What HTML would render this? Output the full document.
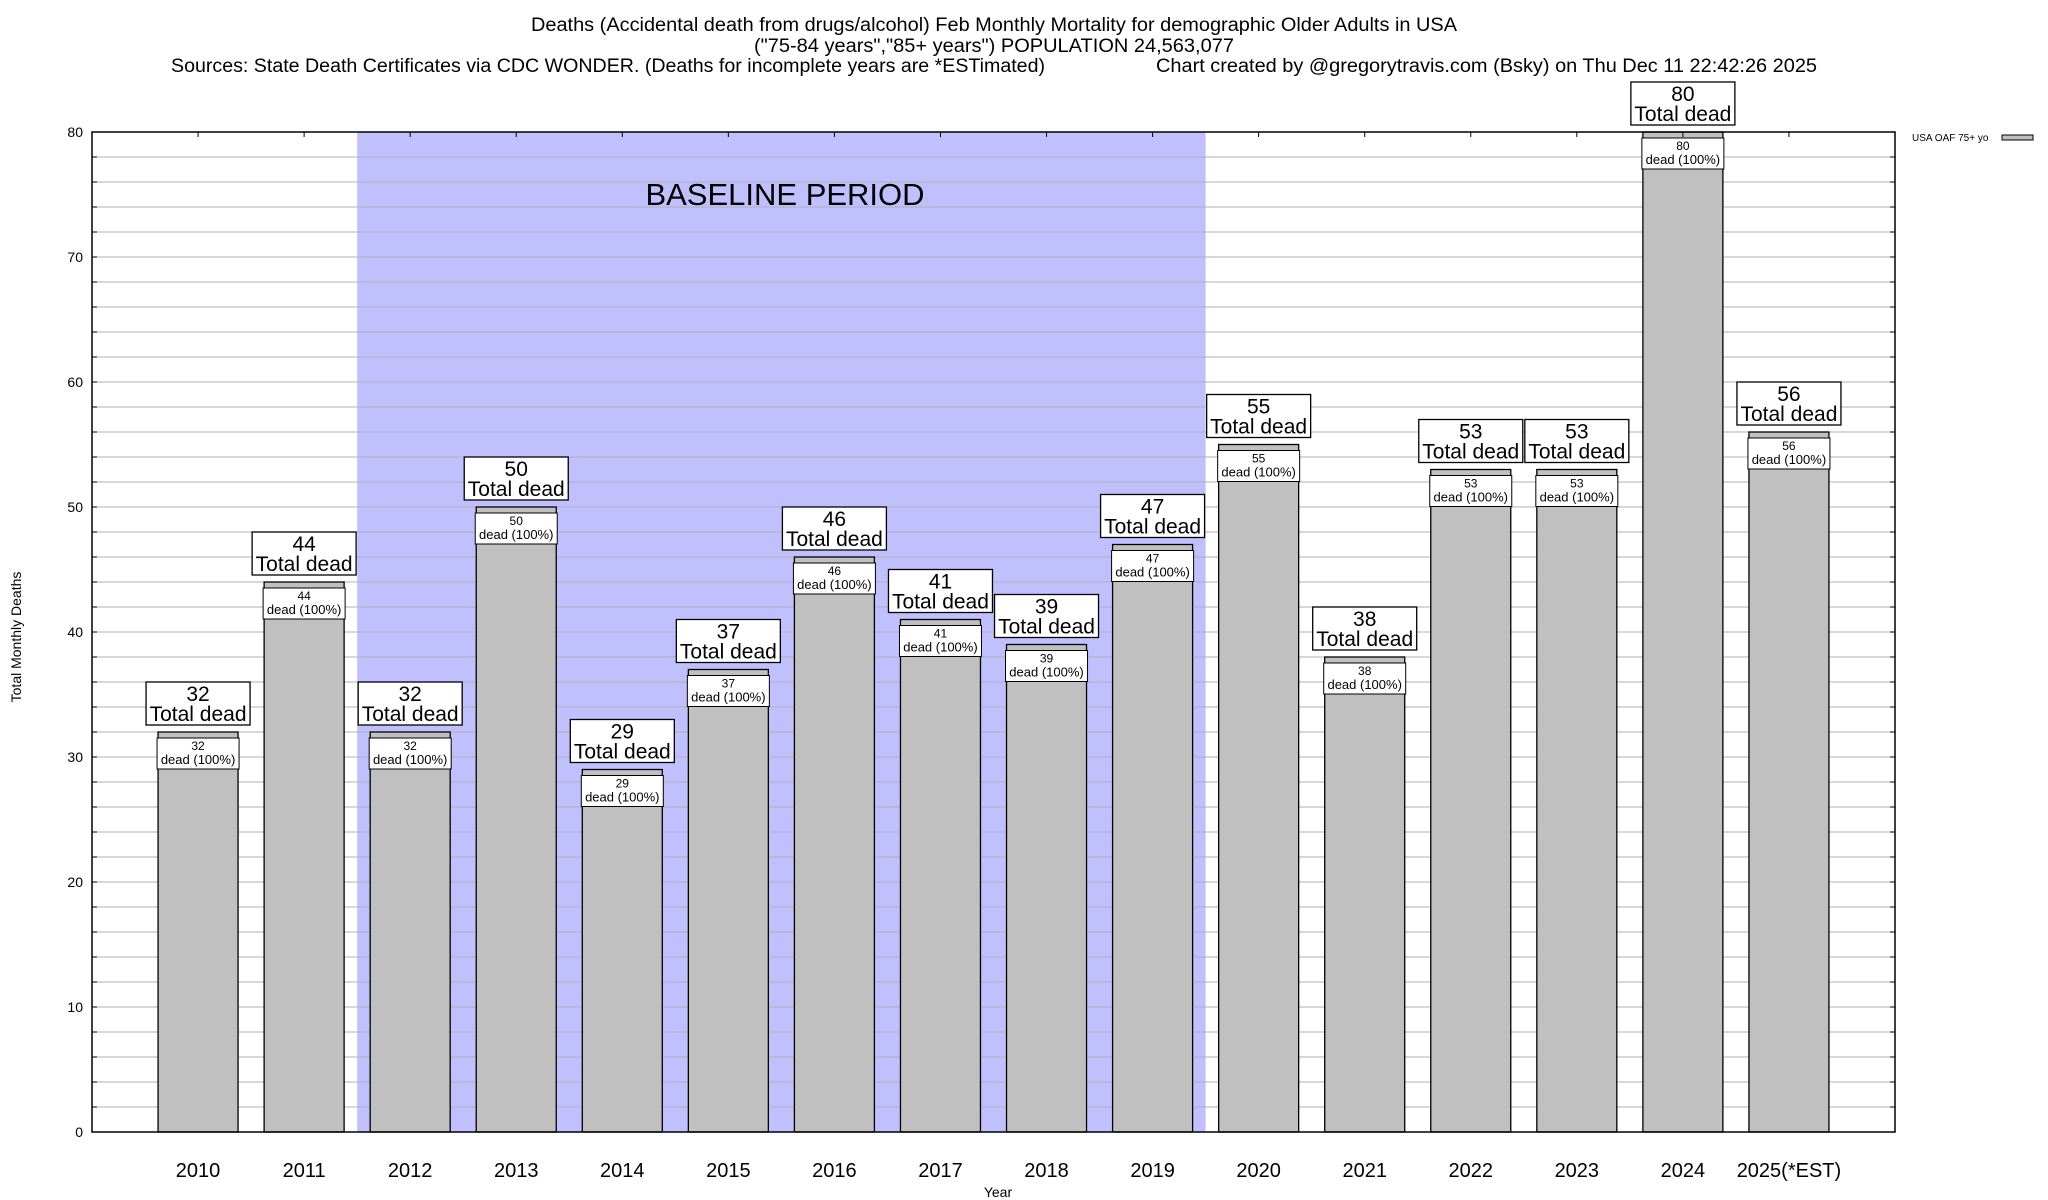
<!DOCTYPE html>
<html><head><meta charset="utf-8"><style>
html,body{margin:0;padding:0;background:#fff;}
svg{display:block;font-family:"Liberation Sans",sans-serif;}
</style></head><body>
<svg id="chart" width="2048" height="1200" xmlns="http://www.w3.org/2000/svg">
<g>
<text x="994" y="31" font-size="19" text-anchor="middle" textLength="926" lengthAdjust="spacingAndGlyphs">Deaths (Accidental death from drugs/alcohol) Feb Monthly Mortality for demographic Older Adults in USA</text>
<text x="994" y="52" font-size="19" text-anchor="middle" textLength="480" lengthAdjust="spacingAndGlyphs">("75-84 years","85+ years") POPULATION 24,563,077</text>
<text x="171" y="72" font-size="19" textLength="874" lengthAdjust="spacingAndGlyphs">Sources: State Death Certificates via CDC WONDER. (Deaths for incomplete years are *ESTimated)</text>
<text x="1156" y="72" font-size="19" textLength="661" lengthAdjust="spacingAndGlyphs">Chart created by @gregorytravis.com (Bsky) on Thu Dec 11 22:42:26 2025</text>
</g>
<g id="plot"></g>
<text x="998" y="1197" font-size="14" text-anchor="middle">Year</text>
<text transform="translate(21,637) rotate(-90)" font-size="14" text-anchor="middle">Total Monthly Deaths</text>
<g>
<text x="1912" y="141" font-size="10">USA OAF 75+ yo</text>
<rect x="2002" y="135" width="31" height="5" fill="#c0c0c0" stroke="#000" stroke-width="1"/>
</g>
</svg>
<script>
const categories = ["2010","2011","2012","2013","2014","2015","2016","2017","2018","2019","2020","2021","2022","2023","2024","2025(*EST)"];
const values = [32,44,32,50,29,37,46,41,39,47,55,38,53,53,80,56];
const yTicks = [0,10,20,30,40,50,60,70,80];
const baselineStart = 2, baselineEnd = 9;

const NS = "http://www.w3.org/2000/svg";
const L = 92, R = 1895, T = 132, B = 1132, yMax = 80;
const step = (R - L) / (categories.length + 1);
const xPos = i => L + (i + 1) * step;
const yPos = v => B - (v / yMax) * (B - T);
const plot = document.getElementById('plot');
function mk(tag, attrs, parent) {
  const e = document.createElementNS(NS, tag);
  for (const k in attrs) e.setAttribute(k, attrs[k]);
  (parent || plot).appendChild(e);
  return e;
}
let sh = mk('rect', {x: xPos(baselineStart) - step / 2, y: T, width: (baselineEnd - baselineStart + 1) * step, height: B - T, fill: '#c0c0ff'});


for (let v = 2; v < yMax; v += 2) {
  const g = mk('line', {x1: L, x2: R, y1: yPos(v), y2: yPos(v), stroke: '#b0b0b0', 'stroke-width': 1});
  
  
  mk('line', {x1: L, x2: L + 5, y1: yPos(v), y2: yPos(v), stroke: '#000'});
  mk('line', {x1: R - 5, x2: R, y1: yPos(v), y2: yPos(v), stroke: '#000'});
}
let bt = mk('text', {x: 785, y: 205, 'font-size': 31, 'text-anchor': 'middle'});
bt.textContent = 'BASELINE PERIOD';


yTicks.forEach(v => {
  const t = mk('text', {x: 83, y: yPos(v) + 5, 'font-size': 14, 'text-anchor': 'end'});
  t.textContent = v;
  
  
});
categories.forEach((c, i) => {
  const x = xPos(i), v = values[i], y = yPos(v);
  const b = mk('rect', {x: x - 40, y: y, width: 80, height: B - y, fill: '#c0c0c0', stroke: '#000', 'stroke-width': 1.3});
  
  
  mk('line', {x1: x, x2: x, y1: T, y2: T + 5, stroke: '#000'});
  const sb = mk('rect', {x: x - 41, y: y + 6, width: 82, height: 31, fill: '#fff', stroke: '#000', 'stroke-width': 1});
  
  
  const s1 = mk('text', {x: x, y: y + 18, 'font-size': 12, 'text-anchor': 'middle'});
  s1.textContent = v;
  
  
  const s2 = mk('text', {x: x, y: y + 32, 'font-size': 13, 'text-anchor': 'middle'});
  s2.textContent = 'dead (100%)';
  
  
  const lb = mk('rect', {x: x - 52, y: y - 50, width: 104, height: 43, fill: '#fff', stroke: '#000', 'stroke-width': 1.3});
  
  
  const t1 = mk('text', {x: x, y: y - 31, 'font-size': 21, 'text-anchor': 'middle'});
  t1.textContent = v;
  
  
  const t2 = mk('text', {x: x, y: y - 11, 'font-size': 21, 'text-anchor': 'middle'});
  t2.textContent = 'Total dead';
  
  
  const xl = mk('text', {x: x, y: 1177, 'font-size': 20, 'text-anchor': 'middle'});
  xl.textContent = c;
  
  
});
let fr = mk('rect', {x: L, y: T, width: R - L, height: B - T, fill: 'none', stroke: '#000', 'stroke-width': 1.5});


</script>
</body></html>
